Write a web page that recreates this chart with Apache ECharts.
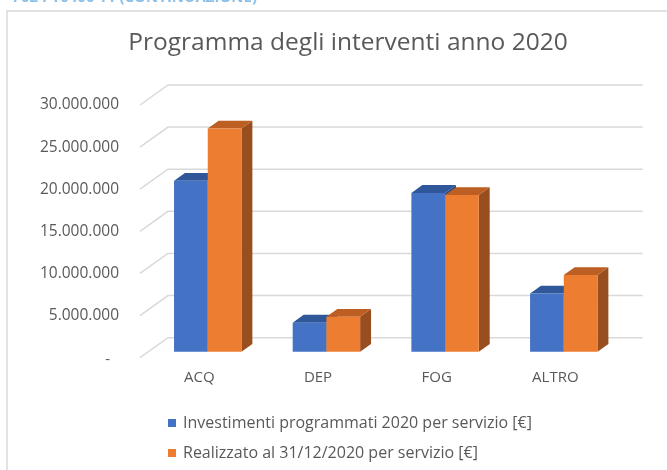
<!DOCTYPE html>
<html>
<head>
<meta charset="utf-8">
<script src="https://cdn.jsdelivr.net/npm/echarts@6/dist/echarts.min.js"></script>
<style>
  html, body { margin: 0; padding: 0; background: #fff; }
  #chart { width: 667px; height: 470px; }
</style>
</head>
<body>
<div id="chart"></div>
<script>
// dati
var categories = ['ACQ', 'DEP', 'FOG', 'ALTRO']
var investimenti = [20300000, 3450000, 18850000, 6900000]
var realizzato = [26500000, 4150000, 18600000, 9100000]
var yTicks = [0, 5000000, 10000000, 15000000, 20000000, 25000000, 30000000]

var nameInv = 'Investimenti programmati 2020 per servizio [€]'
var nameReal = 'Realizzato al 31/12/2020 per servizio [€]'

// profondita' della scena 3D (offset del muro di fondo)
var DX = 28
var DY = -20
var FRONT = 0.3   // faccia frontale delle barre
var BACK = 0.69   // faccia posteriore delle barre
var BAR_FRAC = 0.284
var textColor = '#595959'

function fmt(v) {
  if (v === 0) return '{d|-}'
  return String(v).replace(/\B(?=(\d{3})+(?!\d))/g, '.')
}

function wallRender(params, api) {
  var cs = params.coordSys
  var y = api.coord([0, api.value(1)])[1]
  var x0 = cs.x
  var x1 = cs.x + cs.width
  return {
    type: 'polyline',
    shape: { points: [[x0, y], [x0 + DX, y + DY], [x1 + DX, y + DY]] },
    style: { stroke: '#d9d9d9', lineWidth: 1.5, fill: null },
    silent: true
  }
}

function barRender(side, front, top, right) {
  return function (params, api) {
    var cat = api.value(0)
    var v = api.value(1)
    var pTop = api.coord([cat, v])
    var pBase = api.coord([cat, 0])
    var band = api.size([1, 0])[0]
    var w = band * BAR_FRAC
    var x0 = pTop[0] + (side < 0 ? -w : 0) + DX * FRONT
    var yT = pTop[1] + DY * FRONT
    var yB = pBase[1] + DY * FRONT
    var dx = DX * (BACK - FRONT)
    var dy = DY * (BACK - FRONT)
    return {
      type: 'group',
      children: [{
        type: 'polygon',
        shape: { points: [[x0 + w, yT], [x0 + w + dx, yT + dy], [x0 + w + dx, yB + dy], [x0 + w, yB]] },
        style: { fill: right }
      }, {
        type: 'polygon',
        shape: { points: [[x0, yT], [x0 + w, yT], [x0 + w + dx, yT + dy], [x0 + dx, yT + dy]] },
        style: { fill: top }
      }, {
        type: 'rect',
        shape: { x: x0, y: yT, width: w, height: yB - yT },
        style: { fill: front }
      }]
    }
  }
}

var chart = echarts.init(document.getElementById('chart'))

chart.setOption({
  animation: false,
  textStyle: { fontFamily: 'Open Sans' },
  graphic: [{
    type: 'rect',
    shape: { x: 7, y: 11, width: 700, height: 500 },
    style: { fill: null, stroke: '#d9d9d9', lineWidth: 1.5 },
    silent: true
  }, {
    type: 'text',
    right: 410,
    top: -10,
    style: {
      text: 'F02 PT0400 11 (CONTINUAZIONE)',
      fill: '#8cc0e8',
      font: 'bold 15px "Open Sans"'
    }
  }],
  title: {
    text: 'Programma degli interventi anno 2020',
    left: 343,
    top: 26,
    textAlign: 'center',
    textStyle: { fontSize: 24.5, fontWeight: 'normal', color: textColor, fontFamily: 'Open Sans' }
  },
  legend: {
    orient: 'vertical',
    left: 163,
    top: 410,
    itemWidth: 8,
    itemHeight: 8,
    itemGap: 14,
    icon: 'rect',
    data: [
      { name: nameInv, itemStyle: { color: '#4472c4' } },
      { name: nameReal, itemStyle: { color: '#ed7d31' } }
    ],
    textStyle: { fontSize: 16, color: textColor, fontFamily: 'Open Sans', padding: [0, 0, 0, 2] }
  },
  grid: { left: 140, right: 52.3, top: 105, bottom: 112.3 },
  xAxis: {
    type: 'category',
    data: categories,
    axisLine: { show: false },
    axisTick: { show: false },
    axisLabel: { color: textColor, fontSize: 15, margin: 13 }
  },
  yAxis: {
    type: 'value',
    min: 0,
    max: 30000000,
    interval: 5000000,
    axisLine: { show: false },
    axisTick: { show: false },
    splitLine: { show: false },
    axisLabel: {
      color: textColor,
      fontSize: 15.5,
      margin: 21,
      formatter: fmt,
      rich: { d: { color: textColor, fontSize: 15, padding: [5, 9, 0, 0] } }
    }
  },
  series: [{
    type: 'custom',
    name: 'wall',
    renderItem: wallRender,
    data: yTicks.map(function (t) { return [0, t] }),
    z: 1,
    silent: true
  }, {
    type: 'custom',
    name: nameInv,
    itemStyle: { color: '#4472c4' },
    renderItem: barRender(-1, '#4472c4', '#30579a', '#284a83'),
    data: investimenti.map(function (v, i) { return [i, v] }),
    z: 2
  }, {
    type: 'custom',
    name: nameReal,
    itemStyle: { color: '#ed7d31' },
    renderItem: barRender(1, '#ed7d31', '#bd5e22', '#984e1f'),
    data: realizzato.map(function (v, i) { return [i, v] }),
    z: 3
  }]
})
</script>
</body>
</html>
